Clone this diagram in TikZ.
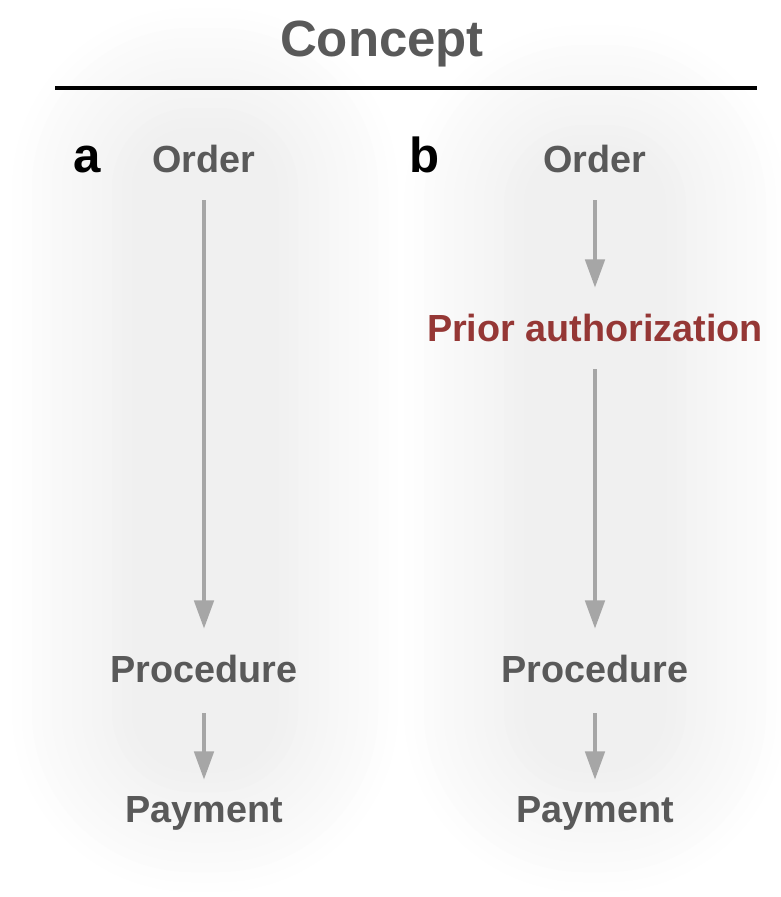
\documentclass[tikz,border=0pt]{standalone}
\usepackage{fontspec}
\setmainfont{Liberation Sans}
\usepackage{xcolor}
\definecolor{txt-gray}{HTML}{595959}
\definecolor{arr-gray}{HTML}{A6A6A6}
\definecolor{dark-red}{HTML}{953735}
\usetikzlibrary{arrows.meta}
\usetikzlibrary{positioning}
\tikzset{stage/.style = {font=\fontsize{21.5}{24}\selectfont\bfseries, text=txt-gray, inner sep=0pt, text height=15.4pt, text depth=0pt, anchor=base}}
\tikzset{panel/.style = {font=\fontsize{28}{30}\selectfont\bfseries, text=black, inner sep=0pt, anchor=base}}
\tikzset{arr/.style = {arr-gray, line width=2.1pt, -{Triangle[length=16pt, width=11pt]}, shorten <=0.56cm, shorten >=0.52cm}}

\begin{document}
\begin{tikzpicture}[x=0.02cm, y=-0.02cm]
\useasboundingbox (0,0) rectangle (781,897);

% soft backdrops behind the two columns
\foreach \i in {0,...,12}{
  \pgfmathsetmacro\rr{(180-10*\i)*0.02}
  \pgfmathsetmacro\sh{0.5+0.45*\i}
  \fill[black!\sh, rounded corners=\rr cm] (12+10*\i, 8+10*\i) rectangle (398-10*\i, 892-10*\i);
  \fill[black!\sh, rounded corners=\rr cm] (404+10*\i, 25+10*\i) rectangle (786-10*\i, 892-10*\i);
}

\node[stage, font=\fontsize{29}{32}\selectfont\bfseries] (title) at (382,56) {Concept};
\draw[line width=2.3pt] (55,88) -- (757,88);

\node[panel] (pa) at (87,172) {a};
\node[panel] (pb) at (425,172) {b};

% column a
\node[stage] (a0) at (204,172) {Order};
\node[stage] (a1) at (204,682) {Procedure};
\node[stage] (a2) at (204,822) {Payment};

% column b
\node[stage] (b0) at (595,172) {Order};
\node[stage, text=dark-red] (b1) at (595,341) {Prior authorization};
\node[stage] (b2) at (595,682) {Procedure};
\node[stage] (b3) at (595,822) {Payment};

\draw[arr]  (a0) -- (a1);
\draw[arr, shorten <=0.62cm, shorten >=0.3cm]  (a1) -- (a2);
\draw[arr]  (b0) -- (b1);
\draw[arr]  (b1) -- (b2);
\draw[arr, shorten <=0.62cm, shorten >=0.3cm]  (b2) -- (b3);

\end{tikzpicture}
\end{document}
